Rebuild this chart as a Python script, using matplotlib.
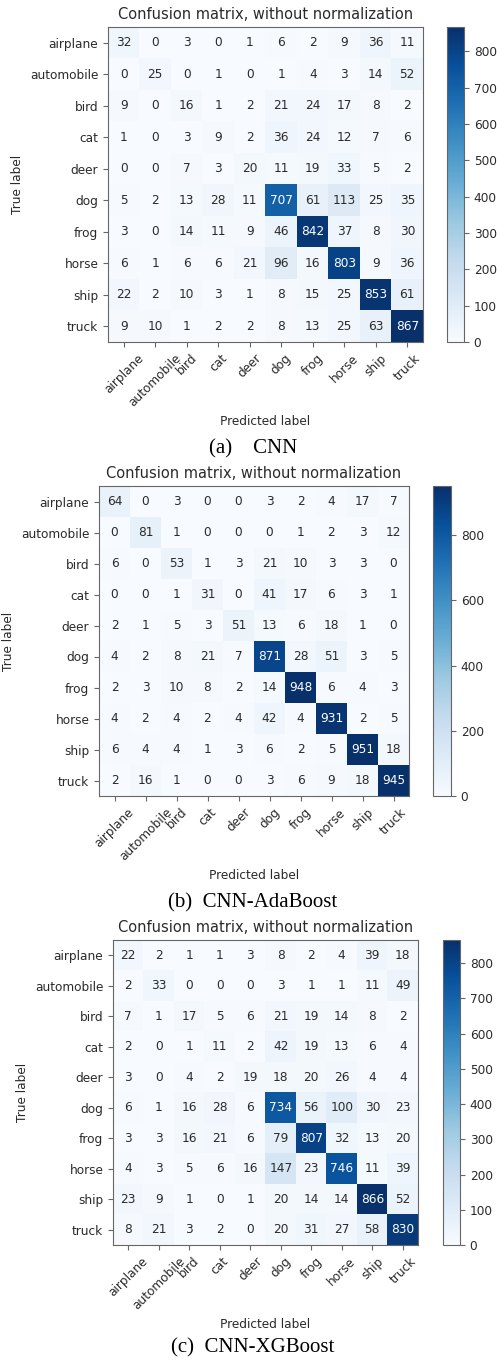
import matplotlib
matplotlib.use("Agg")
import matplotlib.pyplot as plt
import numpy as np
from matplotlib.ticker import MultipleLocator

classes = ['airplane', 'automobile', 'bird', 'cat', 'deer',
           'dog', 'frog', 'horse', 'ship', 'truck']

cm_cnn = [
    [32, 0, 3, 0, 1, 6, 2, 9, 36, 11],
    [0, 25, 0, 1, 0, 1, 4, 3, 14, 52],
    [9, 0, 16, 1, 2, 21, 24, 17, 8, 2],
    [1, 0, 3, 9, 2, 36, 24, 12, 7, 6],
    [0, 0, 7, 3, 20, 11, 19, 33, 5, 2],
    [5, 2, 13, 28, 11, 707, 61, 113, 25, 35],
    [3, 0, 14, 11, 9, 46, 842, 37, 8, 30],
    [6, 1, 6, 6, 21, 96, 16, 803, 9, 36],
    [22, 2, 10, 3, 1, 8, 15, 25, 853, 61],
    [9, 10, 1, 2, 2, 8, 13, 25, 63, 867],
]

cm_adaboost = [
    [64, 0, 3, 0, 0, 3, 2, 4, 17, 7],
    [0, 81, 1, 0, 0, 0, 1, 2, 3, 12],
    [6, 0, 53, 1, 3, 21, 10, 3, 3, 0],
    [0, 0, 1, 31, 0, 41, 17, 6, 3, 1],
    [2, 1, 5, 3, 51, 13, 6, 18, 1, 0],
    [4, 2, 8, 21, 7, 871, 28, 51, 3, 5],
    [2, 3, 10, 8, 2, 14, 948, 6, 4, 3],
    [4, 2, 4, 2, 4, 42, 4, 931, 2, 5],
    [6, 4, 4, 1, 3, 6, 2, 5, 951, 18],
    [2, 16, 1, 0, 0, 3, 6, 9, 18, 945],
]

cm_xgboost = [
    [22, 2, 1, 1, 3, 8, 2, 4, 39, 18],
    [2, 33, 0, 0, 0, 3, 1, 1, 11, 49],
    [7, 1, 17, 5, 6, 21, 19, 14, 8, 2],
    [2, 0, 1, 11, 2, 42, 19, 13, 6, 4],
    [3, 0, 4, 2, 19, 18, 20, 26, 4, 4],
    [6, 1, 16, 28, 6, 734, 56, 100, 30, 23],
    [3, 3, 16, 21, 6, 79, 807, 32, 13, 20],
    [4, 3, 5, 6, 16, 147, 23, 746, 11, 39],
    [23, 9, 1, 0, 1, 20, 14, 14, 866, 52],
    [8, 21, 3, 2, 0, 20, 31, 27, 58, 830],
]

captions = ['(a)    CNN', '(b)  CNN-AdaBoost', '(c)  CNN-XGBoost']
cbar_steps = [100, 200, 100]

W, H = 497, 1360
fig = plt.figure(figsize=(W / 100, H / 100), dpi=100)


def rect(l, t, r, b):
    return [l / W, 1 - b / H, (r - l) / W, (b - t) / H]


# pixel boxes: matrix axes, colorbar axes, caption y
layout = [
    ((108, 27, 423, 342), (447, 27, 464, 342), 449),
    ((99, 486, 409, 796), (433, 486, 451, 796), 903),
    ((113, 940, 418, 1245), (443, 940, 460, 1245), 1348),
]

fs = 8.7
edge = '#666666'
txt = '#2a2a2a'

for cm, cap, step, (abox, cbox, cy) in zip(
        [cm_cnn, cm_adaboost, cm_xgboost], captions, cbar_steps, layout):
    cm = np.array(cm)
    ax = fig.add_axes(rect(*abox))
    cax = fig.add_axes(rect(*cbox))
    im = ax.imshow(cm, interpolation='nearest', cmap=plt.cm.Blues, aspect='auto')
    ax.set_title('Confusion matrix, without normalization', fontsize=10.5,
                 color=txt)
    ticks = np.arange(len(classes))
    ax.set_xticks(ticks)
    ax.set_xticklabels(classes, rotation=45, fontsize=fs, color=txt)
    ax.set_yticks(ticks)
    ax.set_yticklabels(classes, fontsize=fs, color=txt)
    ax.tick_params(color=edge, length=3.5)
    for s in ax.spines.values():
        s.set_color(edge)

    thresh = cm.max() / 2.
    for i in range(cm.shape[0]):
        for j in range(cm.shape[1]):
            ax.text(j, i, format(cm[i, j], 'd'), ha='center', va='center',
                    fontsize=fs,
                    color='white' if cm[i, j] > thresh else txt)

    ax.set_ylabel('True label', fontsize=fs, color=txt)
    ax.set_xlabel('Predicted label', fontsize=fs, color=txt)

    cb = fig.colorbar(im, cax=cax)
    cb.locator = MultipleLocator(step)
    cb.update_ticks()
    cb.outline.set_edgecolor(edge)
    cax.tick_params(labelsize=fs, colors=txt, color=edge, length=3.5)

    fig.text(253 / W, 1 - cy / H, cap, ha='center', va='center',
             fontsize=15, family='Liberation Serif')

fig.savefig('out.png', dpi=100)
